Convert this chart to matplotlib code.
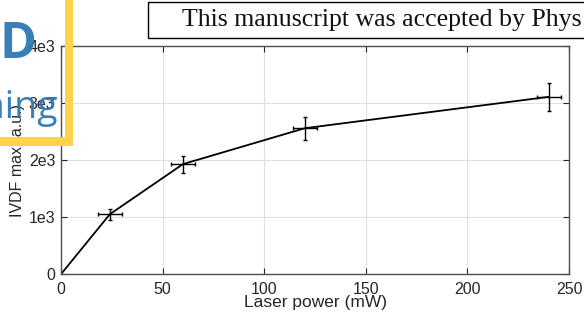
import matplotlib.pyplot as plt
import matplotlib.patches as patches

# laser power (mW) and IVDF maximum (a.u.)
power = [0, 24, 60, 120, 240]
ivdf = [0, 1050, 1930, 2560, 3110]
power_err = [0, 6, 6, 6, 6]
ivdf_err = [0, 100, 150, 200, 240]

xticks = [0, 50, 100, 150, 200, 250]
yticks = [0, 1000, 2000, 3000, 4000]
ytick_labels = ['0', '1e3', '2e3', '3e3', '4e3']

plt.rcParams['font.family'] = ['Liberation Sans', 'DejaVu Sans']

fig = plt.figure(figsize=(5.84, 3.18), dpi=100)
ax = fig.add_axes([0.1045, 0.138, 0.870, 0.717])

ax.plot(power, ivdf, color='black', lw=1.3)
ax.errorbar(power[1:], ivdf[1:], xerr=power_err[1:], yerr=ivdf_err[1:],
            fmt='none', ecolor='black', elinewidth=1.0, capsize=1.5, capthick=1.0)

ax.set_xlim(0, 250)
ax.set_ylim(0, 4000)
ax.set_xticks(xticks)
ax.set_yticks(yticks)
ax.set_yticklabels(ytick_labels)
ax.grid(True, color='#e0e0e0', lw=0.8)
ax.set_axisbelow(True)
ax.tick_params(direction='in', length=4, top=True, right=True,
               labelsize=11.5, colors='#262626')
ax.tick_params(axis='x', pad=6)
ax.tick_params(axis='y', pad=4)
for s in ax.spines.values():
    s.set_color('#4d4d4d')
    s.set_linewidth(1.0)

ax.set_xlabel('Laser power (mW)', fontsize=12.5, color='#262626')
ax.xaxis.set_label_coords(0.5, -0.092)
ax.set_ylabel('IVDF max (a.u.)', fontsize=11.5, color='#262626')
ax.yaxis.set_label_coords(-0.071, 0.5)

# header box cut off at the right edge
fig.text(182 / 584, 1 - 20 / 318, 'This manuscript was accepted by Phys',
         family=['Liberation Serif', 'DejaVu Serif'], fontsize=18.6,
         ha='left', va='center', color='#111111')
fig.add_artist(patches.Rectangle((148 / 584, 1 - 38 / 318), 0.8, 36 / 318,
                                 transform=fig.transFigure, fill=False,
                                 edgecolor='black', lw=1.0))

# overlay in the top-left corner
fig.add_artist(patches.Rectangle((65 / 584, 1 - 146 / 318), 8 / 584, 146 / 318,
                                 transform=fig.transFigure, color='#fdd34e',
                                 lw=0, zorder=10))
fig.add_artist(patches.Rectangle((0, 1 - 146 / 318), 73 / 584, 9 / 318,
                                 transform=fig.transFigure, color='#fdd34e',
                                 lw=0, zorder=10))
fig.text(36 / 584, 1 - 45 / 318, 'D', fontsize=36, fontweight='bold',
         family=['Open Sans', 'DejaVu Sans'], color='#2e78b4', alpha=0.95,
         ha='right', va='center', zorder=11)
fig.text(58 / 584, 1 - 108 / 318, 'Learning', fontsize=27,
         family=['Open Sans', 'DejaVu Sans'], color='#2e78b4', alpha=0.95,
         ha='right', va='center', zorder=11)

fig.savefig('out.png', dpi=100)
